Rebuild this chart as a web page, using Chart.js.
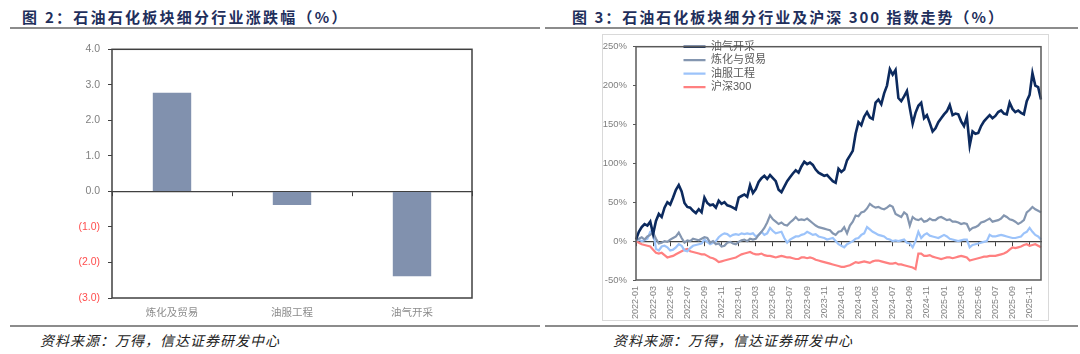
<!DOCTYPE html>
<html lang="zh-CN">
<head>
<meta charset="UTF-8">
<title>石油石化板块细分行业</title>
<script src="https://cdn.jsdelivr.net/npm/chart.js@4.4.1/dist/chart.umd.min.js"></script>
<style>
  body { margin: 0; width: 1080px; height: 354px; background: #fff; position: relative; overflow: hidden; font-family: "Noto Sans CJK SC", sans-serif; }
  .title { position: absolute; top: 6px; font-size: 15px; font-weight: bold; color: #1f2f5c; letter-spacing: 2.1px; white-space: nowrap; }
  .rule { position: absolute; height: 2px; background: #8c8c8c; }
  .source { position: absolute; top: 330px; font-size: 14px; font-style: italic; color: #222; letter-spacing: 1px; white-space: nowrap; }
  #barChart { position: absolute; left: 60px; top: 35px; }
  .box { position: absolute; left: 602px; top: 34px; width: 445px; height: 285px; border: 1px solid #d9d9d9; }
</style>
</head>
<body>
<div class="title" style="left:22px; letter-spacing:2.25px">图 2：石油石化板块细分行业涨跌幅（%）</div>
<div class="title" style="left:572px; letter-spacing:2px">图 3：石油石化板块细分行业及沪深 300 指数走势（%）</div>
<div class="rule" style="left:10px; top:27px; width:530px"></div>
<div class="rule" style="left:545px; top:27px; width:533px"></div>

<canvas id="barChart" width="430" height="290"></canvas>
<div class="box"><canvas id="lineChart" width="445" height="285"></canvas></div>

<div class="rule" style="left:10px; top:325px; width:530px"></div>
<div class="rule" style="left:545px; top:325px; width:533px"></div>
<div class="source" style="left:40px">资料来源：万得，信达证券研发中心</div>
<div class="source" style="left:613px">资料来源：万得，信达证券研发中心</div>

<script>
// 图2 数据
const sectors = ['炼化及贸易', '油服工程', '油气开采'];
const sectorChange = [2.78, -0.38, -2.39];

// 图3 数据（每月约3个点）
const months = [
  '2022-01','2022-02','2022-03','2022-04','2022-05','2022-06','2022-07','2022-08','2022-09','2022-10','2022-11','2022-12',
  '2023-01','2023-02','2023-03','2023-04','2023-05','2023-06','2023-07','2023-08','2023-09','2023-10','2023-11','2023-12',
  '2024-01','2024-02','2024-03','2024-04','2024-05','2024-06','2024-07','2024-08','2024-09','2024-10','2024-11','2024-12',
  '2025-01','2025-02','2025-03','2025-04','2025-05','2025-06','2025-07','2025-08','2025-09','2025-10','2025-11','2025-12'
];
const pointsPerMonth = 3;

const oilGas = [
  2,12,18,22,20,25,9,26,35,31, 43,50,47,56,66,72,64,49,44,43,
  39,36,41,37,56,49,46,47,43,52, 48,50,46,45,43,41,56,58,60,57,
  72,62,67,76,81,84,80,85,81,77, 66,63,70,77,82,87,91,88,96,102,
  99,101,98,92,88,86,84,85,81,77, 75,93,89,92,104,110,116,138,153,149,
  160,166,159,157,178,182,176,190,200,221, 214,220,184,180,186,193,171,151,165,174,
  178,158,162,152,141,145,153,158,163,167, 175,162,164,163,154,148,160,123,141,138,
  139,148,154,158,162,158,161,166,168,164, 163,178,170,166,168,165,163,180,188,216,
  200,198,182
];
const refining = [
  1,3,5,2,6,8,11,3,-3,-2, 0,-1,2,4,6,11,4,-2,1,0,
  3,2,1,3,5,4,-2,0,-4,-3, -7,-6,-2,-1,-3,-4,-1,1,2,0,
  3,2,3,8,12,17,24,33,28,25, 22,24,21,20,24,27,31,27,28,27,
  29,26,23,20,18,17,16,15,14,10, 8,12,13,18,10,20,25,33,32,37,
  38,42,48,45,43,44,42,41,43,46, 44,35,33,31,37,34,20,31,28,27,
  29,25,26,29,27,27,30,31,29,27, 28,25,25,24,22,23,22,14,17,18,
  20,24,25,27,29,25,26,27,29,33, 31,28,27,25,22,24,27,37,40,44,
  41,39,37
];
const oilService = [
  1,2,0,1,3,12,14,-10,-12,-7, -6,-8,-12,-11,-8,-4,-6,-12,-13,-9,
  -6,-5,-4,-3,2,-1,-4,-2,0,5, 8,10,9,6,8,9,8,10,9,10,
  9,10,6,8,12,8,10,17,13,10, 11,12,4,-2,2,4,6,6,8,9,
  12,10,8,9,6,5,4,2,3,4, 0,-4,-6,-8,-4,-2,0,3,4,8,
  10,18,15,12,10,8,7,6,3,2, 0,1,0,1,2,-2,-3,-8,0,12,
  4,8,10,7,6,5,4,6,8,6, 3,2,1,0,1,2,2,-8,-5,-4,
  -3,-2,-1,0,8,6,6,7,8,7, 6,5,4,4,5,6,10,12,17,12,
  8,6,2
];
const hs300 = [
  0,-2,-4,-5,-6,-7,-11,-15,-16,-15, -18,-21,-20,-19,-17,-15,-13,-11,-10,-13,
  -14,-15,-16,-17,-17,-19,-21,-22,-24,-27, -26,-25,-24,-23,-22,-21,-19,-17,-16,-15,
  -14,-16,-17,-17,-16,-18,-19,-19,-20,-21, -20,-19,-20,-21,-21,-22,-23,-23,-21,-21,
  -22,-21,-22,-24,-25,-26,-27,-28,-29,-30, -31,-32,-33,-33,-32,-31,-29,-27,-28,-27,
  -26,-27,-28,-26,-25,-25,-26,-27,-28,-29, -29,-28,-30,-30,-31,-32,-33,-34,-36,-16,
  -16,-19,-19,-18,-20,-21,-22,-23,-22,-21, -21,-22,-21,-20,-19,-20,-21,-25,-24,-23,
  -22,-21,-20,-20,-19,-19,-19,-18,-17,-16, -14,-11,-8,-9,-8,-7,-5,-4,-6,-5,
  -4,-6,-8
];

Chart.defaults.font.family = '"Liberation Sans", "Noto Sans CJK SC", sans-serif';

// 绘图区外框
const framePlugin = {
  id: 'frame',
  afterDatasetsDraw(chart, args, opts) {
    const { ctx, chartArea: a } = chart;
    ctx.save();
    ctx.strokeStyle = opts.color;
    ctx.lineWidth = opts.width;
    ctx.strokeRect(a.left, a.top, a.right - a.left, a.bottom - a.top);
    ctx.restore();
  }
};

// 图例放进绘图区后再往右挪一点
const legendShift = {
  id: 'legendShift',
  afterLayout(chart, args, opts) {
    chart.legend.left = chart.chartArea.left + opts.x;
    chart.legend.top = chart.chartArea.top + opts.y;
  }
};

// 每两个月一个刻度
const everyTwoMonths = scale => {
  scale.ticks = scale.ticks.filter(t => t.value % (pointsPerMonth * 2) === 0);
};

// 图2 柱状图
new Chart(document.getElementById('barChart'), {
  type: 'bar',
  data: {
    labels: sectors,
    datasets: [{ data: sectorChange, backgroundColor: '#8191ae', barPercentage: 0.32, categoryPercentage: 1 }]
  },
  options: {
    responsive: false,
    animation: false,
    layout: { padding: { top: 10, right: 18, bottom: 0, left: 0 } },
    plugins: {
      legend: { display: false },
      tooltip: { enabled: false },
      frame: { color: '#404040', width: 1.5 }
    },
    scales: {
      x: {
        grid: { display: false, drawTicks: false },
        border: { display: false },
        ticks: { color: '#8c8c8c', font: { size: 10.5 }, padding: 9 },
        afterFit: s => { s.height = 27; }
      },
      xz: {
        type: 'category',
        position: { y: 0 },
        offset: true,
        grid: { offset: true, drawOnChartArea: false, tickLength: 4, color: '#404040' },
        border: { color: '#404040', width: 1.2 },
        ticks: { display: false }
      },
      y: {
        min: -3,
        max: 4,
        ticks: {
          stepSize: 1,
          color: ctx => ctx.tick.value < 0 ? '#ff4d4d' : '#808080',
          font: { size: 10.5 },
          padding: 8,
          callback: v => v < 0 ? '(' + (-v).toFixed(1) + ')' : v.toFixed(1)
        },
        grid: { drawOnChartArea: false, tickLength: 4, color: '#404040' },
        border: { display: false },
        afterFit: s => { s.width = 52; }
      }
    }
  },
  plugins: [framePlugin]
});

// 图3 走势图
const dayLabels = oilGas.map((_, i) => months[Math.floor(i / pointsPerMonth)]);

new Chart(document.getElementById('lineChart'), {
  type: 'line',
  data: {
    labels: dayLabels,
    datasets: [
      { label: '油气开采', data: oilGas, borderColor: '#0c2a5e', borderWidth: 2.6 },
      { label: '炼化与贸易', data: refining, borderColor: '#8496b0', borderWidth: 2.2 },
      { label: '油服工程', data: oilService, borderColor: '#9cc3fa', borderWidth: 2.2 },
      { label: '沪深300', data: hs300, borderColor: '#ff8080', borderWidth: 2.2 }
    ]
  },
  options: {
    responsive: false,
    animation: false,
    elements: { point: { radius: 0 }, line: { tension: 0 } },
    layout: { padding: { top: 5, right: 7, bottom: 0, left: 0 } },
    plugins: {
      legend: {
        position: 'chartArea',
        align: 'start',
        labels: {
          usePointStyle: true,
          pointStyle: 'line',
          pointStyleWidth: 22,
          color: '#595959',
          font: { size: 11 },
          padding: 2.5
        }
      },
      legendShift: { x: 45, y: -8 },
      tooltip: { enabled: false },
      frame: { color: '#595959', width: 1.5 }
    },
    scales: {
      x: {
        grid: { display: false, drawTicks: false },
        border: { display: false },
        ticks: { autoSkip: false, minRotation: 90, maxRotation: 90, color: '#7f7f7f', font: { size: 9 }, padding: 6 },
        afterBuildTicks: everyTwoMonths,
        afterFit: s => { s.height = 40; }
      },
      xz: {
        type: 'category',
        position: { y: 0 },
        grid: { drawOnChartArea: false, tickLength: 4, color: '#404040' },
        border: { color: '#404040', width: 1.2 },
        ticks: { display: false },
        afterBuildTicks: everyTwoMonths
      },
      y: {
        min: -50,
        max: 250,
        ticks: { stepSize: 50, color: '#7f7f7f', font: { size: 9.5 }, padding: 6, callback: v => v + '%' },
        grid: { drawOnChartArea: false, tickLength: 3, color: '#595959' },
        border: { display: false },
        afterFit: s => { s.width = 33; }
      }
    }
  },
  plugins: [framePlugin, legendShift]
});
</script>
</body>
</html>
